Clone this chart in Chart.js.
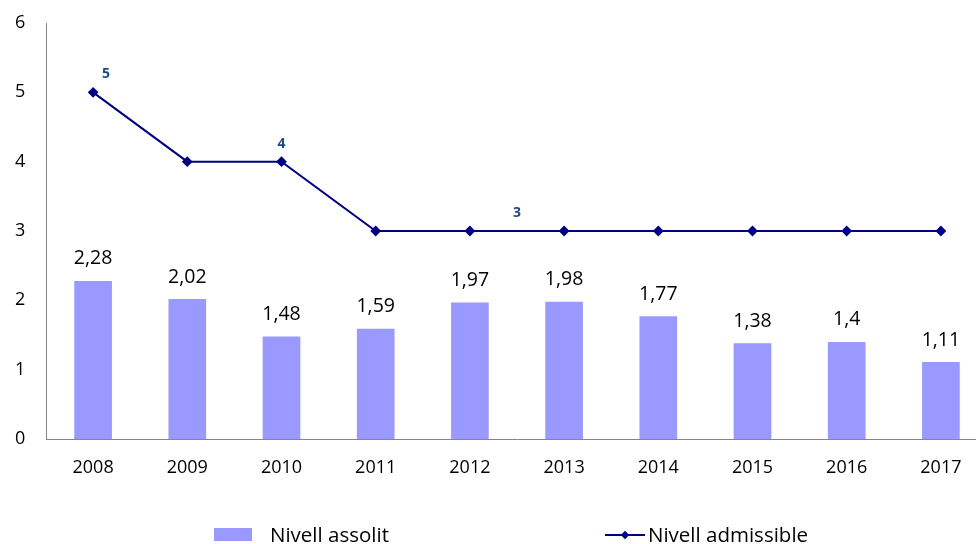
<!DOCTYPE html>
<html><head><meta charset="utf-8">
<script src="https://cdn.jsdelivr.net/npm/chart.js@4/dist/chart.umd.min.js"></script>
<style>
html,body{margin:0;padding:0;background:#fff;overflow:hidden;width:976px;height:544px;}
#wrap{position:relative;width:994px;height:544px;}
.leg{position:absolute;font-family:"Open Sans",sans-serif;font-size:20.5px;color:#000;top:521px;line-height:26px;}
.box{position:absolute;width:38px;height:13px;background:#9999FF;top:528px;left:214px;}
.lin{position:absolute;width:40px;height:2px;background:#000080;top:534px;left:605px;}
.dia{position:absolute;width:6px;height:6px;background:#000080;transform:rotate(45deg);top:532px;left:622px;}
</style></head>
<body>
<div id="wrap">
<canvas id="c" width="994" height="544"></canvas>
<div class="box"></div><div class="leg" style="left:270px">Nivell assolit</div>
<div class="lin"></div><div class="dia"></div><div class="leg" style="left:648px">Nivell admissible</div>
</div>
<script>
const categories = ["2008","2009","2010","2011","2012","2013","2014","2015","2016","2017"];
const assolit = [2.28,2.02,1.48,1.59,1.97,1.98,1.77,1.38,1.4,1.11];
const admissible = [5,4,4,3,3,3,3,3,3,3];
const assolitLabels = ["2,28","2,02","1,48","1,59","1,97","1,98","1,77","1,38","1,4","1,11"];
const admissibleLabels = ["5","","4","","3","","","","",""];

const labelPlugin = {
  id:'labels',
  afterDatasetsDraw(chart){
    const ctx = chart.ctx;
    ctx.save();
    const barMeta = chart.getDatasetMeta(0);
    ctx.font = '19.5px "Open Sans", sans-serif';
    ctx.fillStyle = '#000';
    ctx.textAlign = 'center';
    ctx.textBaseline = 'middle';
    barMeta.data.forEach((el,i)=>{
      ctx.fillText(assolitLabels[i], el.x, el.y - 22);
    });
    const lineMeta = chart.getDatasetMeta(1);
    ctx.font = 'bold 14px "Open Sans", sans-serif';
    ctx.fillStyle = '#1F497D';
    lineMeta.data.forEach((el,i)=>{
      const t = admissibleLabels[i];
      if(!t) return;
      let x = el.x;
      if(i===0) x += 13;
      if(i===4){ x = (el.x + lineMeta.data[5].x)/2; }
      ctx.fillText(t, x, el.y - 18);
    });
    ctx.restore();
  }
};

new Chart(document.getElementById('c'), {
  data:{
    labels: categories,
    datasets:[
      {type:'bar', label:'Nivell assolit', data:assolit, backgroundColor:'#9999FF', barPercentage:0.4, categoryPercentage:1, order:2},
      {type:'line', label:'Nivell admissible', data:admissible, borderColor:'#000080', backgroundColor:'#000080', borderWidth:2, pointStyle:'rectRot', pointRadius:4, pointHoverRadius:4, tension:0, order:1}
    ]
  },
  options:{
    responsive:false, animation:false, devicePixelRatio:1,
    layout:{padding:{top:23,right:2,left:15,bottom:0}},
    plugins:{legend:{display:false}, tooltip:{enabled:false}},
    scales:{
      x:{
        grid:{display:false, drawTicks:false},
        border:{display:true, color:'#868686', width:1},
        ticks:{font:{family:'"Open Sans", sans-serif', size:18}, color:'#000', padding:18, maxRotation:0},
        afterFit(s){ s.height = 105; }
      },
      y:{
        min:0, max:6,
        grid:{display:false, drawTicks:false},
        border:{display:true, color:'#868686', width:1},
        ticks:{stepSize:1, font:{family:'"Open Sans", sans-serif', size:18}, color:'#000', padding:0, crossAlign:'far'},
        afterFit(s){ s.width = 31; }
      }
    }
  },
  plugins:[labelPlugin]
});
</script>
</body></html>
